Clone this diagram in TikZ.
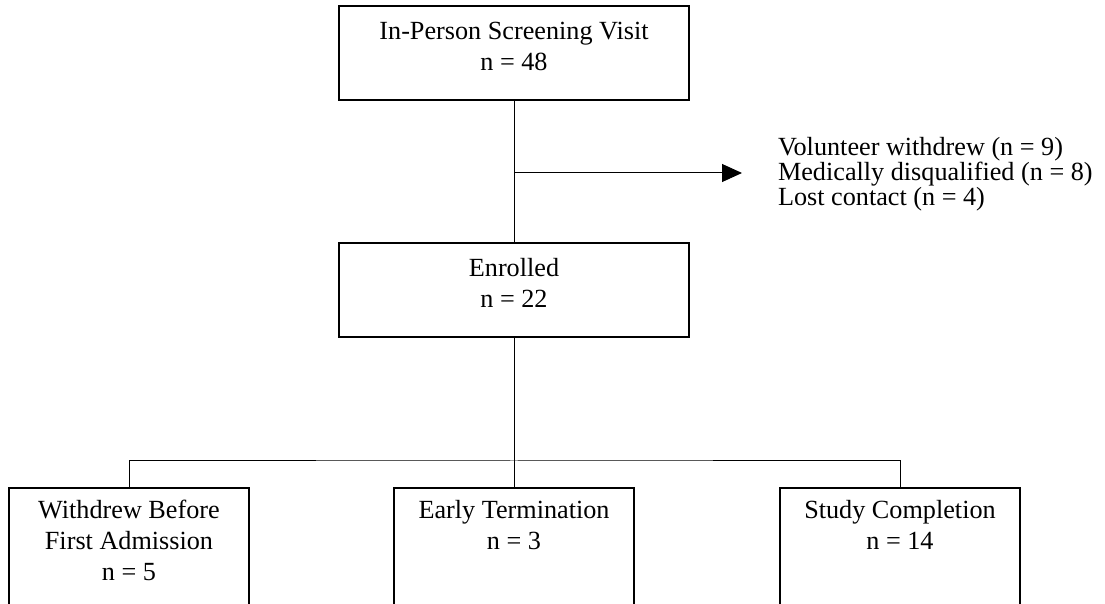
\documentclass[tikz,border=0pt]{standalone}
\usepackage{fontspec}
\setmainfont{Liberation Serif}
\usetikzlibrary{arrows.meta}

\tikzset{
  stage/.style={draw, line width=1pt, minimum width=175pt, minimum height=47pt,
    align=center, text depth=7pt, font=\fontsize{13.1}{15.5}\selectfont},
  outcome/.style={draw, line width=1pt, minimum width=120pt, anchor=north,
    align=center, inner ysep=6pt, text depth=40pt, font=\fontsize{13.1}{15.5}\selectfont},
  link/.style={line width=0.5pt}
}

\begin{document}
\begin{tikzpicture}[x=0.5pt,y=-0.5pt]
\useasboundingbox (0,0) rectangle (1105,604);
\clip (0,0) rectangle (1105,604);

% screening and enrolment
\node[stage] (screen) at (514,53) {In-Person Screening Visit\\n = 48};
\node[stage] (enrol) at (514,290) {Enrolled\\n = 22};
\draw[link] (screen) -- (enrol);

% dropped out before enrolment
\coordinate (split) at (514,173);
\coordinate (tip) at (742,173);
\node[anchor=west, align=left, font=\fontsize{13.1}{12.5}\selectfont] (lost) at (771,174)
  {Volunteer withdrew (n = 9)\\Medically disqualified (n = 8)\\Lost contact (n = 4)};
\draw[link,-{Triangle[length=10pt,width=9pt]}] (split) -- (tip);

% outcomes
\node[outcome] (before) at (129,487) {Withdrew Before\\First Admission\\n = 5};
\node[outcome] (early) at (514,487) {Early Termination\\n = 3};
\node[outcome] (done) at (900,487) {Study Completion\\n = 14};

\coordinate (branch) at (514,461);
\draw[link] (enrol) -- (branch);
\draw[link] (before.north) |- (branch) -| (done.north);
\draw[link] (branch) -- (early.north);
\end{tikzpicture}
\end{document}
